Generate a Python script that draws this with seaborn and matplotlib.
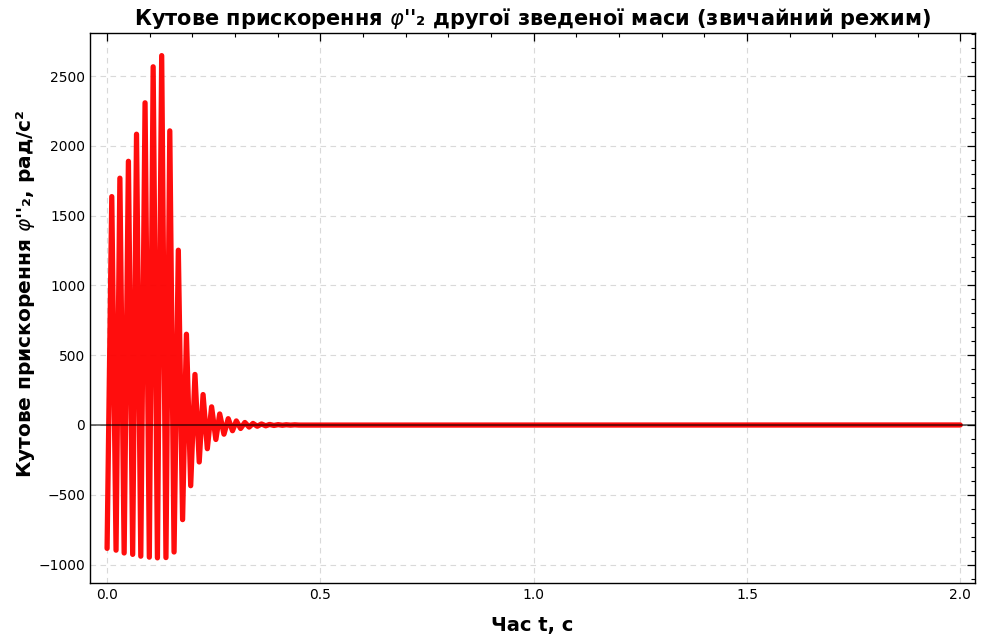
import matplotlib
matplotlib.use("Agg")
import matplotlib.pyplot as plt
from matplotlib.ticker import MultipleLocator
import seaborn as sns
import pandas as pd

# Extremum times (s) and values (rad/s^2)
trough_t = [0.000, 0.021, 0.040, 0.060, 0.079, 0.099, 0.118, 0.138, 0.157, 0.177,
            0.196, 0.216, 0.235, 0.255, 0.274, 0.294, 0.313, 0.333, 0.352, 0.372,
            0.391, 0.411, 0.430, 0.450]
trough_v = [-884, -897, -917, -927, -940, -947, -952, -950, -910, -678,
            -435, -265, -170, -104, -66, -41, -25, -15, -9, -6,
            -3.5, -2, -1.2, -0.7]
peak_t = [0.011, 0.030, 0.050, 0.069, 0.089, 0.108, 0.128, 0.147, 0.167, 0.186,
          0.206, 0.225, 0.245, 0.264, 0.284, 0.303, 0.323, 0.342, 0.362, 0.381,
          0.401, 0.420, 0.440]
peak_v = [1636, 1768, 1889, 2083, 2308, 2566, 2646, 2107, 1252, 650,
          362, 218, 130, 79, 45, 29, 18, 11, 7, 4,
          2.5, 1.5, 1.0]
tail_t = [2.0]
tail_v = [0.0]

# merge alternating troughs and peaks
t_all, v_all = [], []
for i in range(len(trough_t)):
    t_all.append(trough_t[i]); v_all.append(trough_v[i])
    if i < len(peak_t):
        t_all.append(peak_t[i]); v_all.append(peak_v[i])
t_all += tail_t
v_all += tail_v
df = pd.DataFrame({"t": t_all, "a": v_all})

sns.set_theme(style="white")
plt.rcParams['font.family'] = ['DejaVu Sans']
plt.rcParams['axes.unicode_minus'] = True
plt.rcParams['text.color'] = 'black'
plt.rcParams['axes.labelcolor'] = 'black'

fig = plt.figure(figsize=(9.86, 6.41), dpi=100)
ax = fig.add_axes([0.0913, 0.0905, 0.8977, 0.858])

sns.lineplot(data=df, x="t", y="a", ax=ax, color="red", lw=3.8, alpha=0.95,
             estimator=None, sort=False, zorder=3)
ax.axhline(0, color="black", lw=1.3, alpha=0.6, zorder=4)

ax.set_xlim(-0.04, 2.035)
ax.set_ylim(-1132, 2808)
ax.xaxis.set_major_locator(MultipleLocator(0.5))
ax.xaxis.set_minor_locator(MultipleLocator(0.1))
ax.yaxis.set_major_locator(MultipleLocator(500))
ax.yaxis.set_minor_locator(MultipleLocator(100))
ax.tick_params(which="both", direction="in", top=True, right=True,
               labelsize=10, colors="black")
ax.tick_params(which="major", length=6, width=0.9)
ax.tick_params(which="minor", length=3, width=0.8)
ax.grid(True, which="major", linestyle=(0, (5, 4)), color="#d0d0d0", lw=0.8, alpha=0.8)
for s in ax.spines.values():
    s.set_color("black")
    s.set_linewidth(1.0)

ax.set_title("Кутове прискорення $\\varphi$''₂ другої зведеної маси (звичайний режим)",
             fontsize=15, fontweight="bold", pad=6, color="black")
ax.set_xlabel("Час t, с", fontsize=14, fontweight="bold", labelpad=10)
ax.set_ylabel("Кутове прискорення $\\varphi$''₂, рад/с²", fontsize=14.5,
              fontweight="bold")
ax.yaxis.set_label_coords(-0.060, 0.525)

fig.savefig("out.png", dpi=100)
